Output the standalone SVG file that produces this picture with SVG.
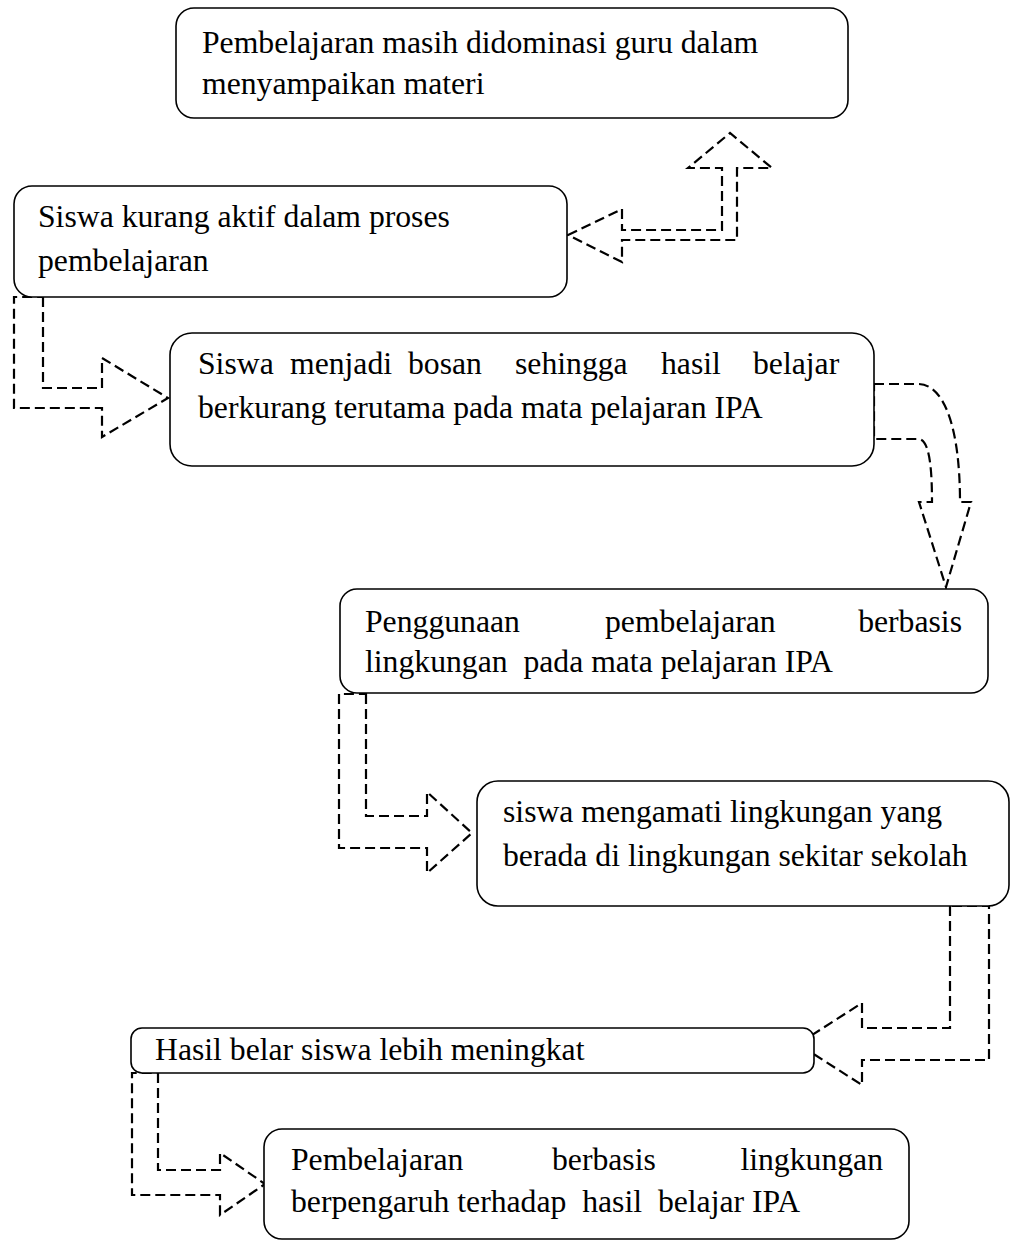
<svg xmlns="http://www.w3.org/2000/svg" width="1012" height="1243" viewBox="0 0 1012 1243">
<style>
.box{fill:#fff;stroke:#000;stroke-width:1.6}
.con{fill:none;stroke:#000;stroke-width:2.2;stroke-dasharray:10 5;stroke-linejoin:miter}
text{font-family:"Liberation Serif","Times New Roman",serif;font-size:31.7px;fill:#000}
</style>
<rect width="1012" height="1243" fill="#fff"/>
<g id="connectors">
<path class="con" d="M568,235 L622,209 L622,230 L722,230 L722,168 L688,168 L730,133 L772,168 L737,168 L737,240 L622,240 L622,262 Z"/>
<path class="con" d="M43,297 L43,388 L102,388 L102,358 L168,398 L102,437 L102,408 L14,408 L14,297 Z"/>
<path class="con" d="M874,384 L918,384 C945,384 960,430 960,502 L971,502 L946,587 L919,502 L932,502 C932,460 928,439 918,439 L874,439 Z"/>
<path class="con" d="M366,694 L366,816 L427,816 L427,792 L472,833 L427,873 L427,848 L339,848 L339,694 Z"/>
<path class="con" d="M950,906 L950,1028 L862,1028 L862,1003 L798,1044 L862,1085 L862,1060 L989,1060 L989,906 Z"/>
<path class="con" d="M158,1073 L158,1170 L220,1170 L220,1153 L265,1184 L220,1215 L220,1195 L132,1195 L132,1073 Z"/>
</g>
<g id="node1">
<rect class="box" x="176" y="8" width="672" height="110" rx="18"/>
<text x="202" y="53">Pembelajaran masih didominasi guru dalam</text>
<text x="202" y="94">menyampaikan materi</text>
</g>
<g id="node2">
<rect class="box" x="14" y="186" width="553" height="111" rx="18"/>
<text x="38" y="227">Siswa kurang aktif dalam proses</text>
<text x="38" y="271">pembelajaran</text>
</g>
<g id="node3">
<rect class="box" x="170" y="333" width="704" height="133" rx="22"/>
<text y="374"><tspan x="198">Siswa</tspan><tspan x="290">menjadi</tspan><tspan x="408">bosan</tspan><tspan x="515">sehingga</tspan><tspan x="661">hasil</tspan><tspan x="753">belajar</tspan></text>
<text x="198" y="418">berkurang terutama pada mata pelajaran IPA</text>
</g>
<g id="node4">
<rect class="box" x="340" y="589" width="648" height="104" rx="17"/>
<text y="632"><tspan x="365">Penggunaan</tspan><tspan x="605">pembelajaran</tspan></text>
<text x="962" y="632" text-anchor="end">berbasis</text>
<text x="365" y="672" xml:space="preserve">lingkungan  pada mata pelajaran IPA</text>
</g>
<g id="node5">
<rect class="box" x="477" y="781" width="532" height="125" rx="21"/>
<text x="503" y="822">siswa mengamati lingkungan yang</text>
<text x="503" y="866">berada di lingkungan sekitar sekolah</text>
</g>
<g id="node6">
<rect class="box" x="131" y="1028" width="683" height="45" rx="11"/>
<text x="155" y="1060">Hasil belar siswa lebih meningkat</text>
</g>
<g id="node7">
<rect class="box" x="264" y="1129" width="645" height="110" rx="18"/>
<text y="1170"><tspan x="291">Pembelajaran</tspan><tspan x="552">berbasis</tspan></text>
<text x="883" y="1170" text-anchor="end">lingkungan</text>
<text x="291" y="1212" xml:space="preserve">berpengaruh terhadap  hasil  belajar IPA</text>
</g>
</svg>
